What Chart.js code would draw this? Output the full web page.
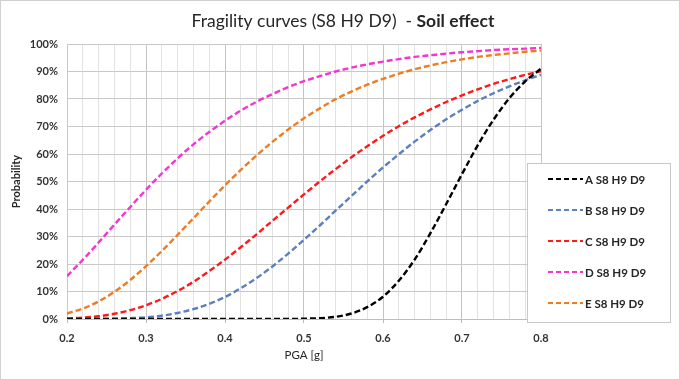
<!DOCTYPE html>
<html>
<head>
<meta charset="utf-8">
<script src="https://cdn.jsdelivr.net/npm/chart.js@4"></script>
<style>
  html, body { margin: 0; padding: 0; background: #fff; }
  #wrap { width: 680px; height: 380px; }
</style>
</head>
<body>
<div id="wrap"><canvas id="fragilityChart" width="680" height="380"></canvas></div>
<script>
// PGA values [g]
const pga = [0.20, 0.22, 0.24, 0.26, 0.28, 0.30, 0.32, 0.34, 0.36, 0.38,
             0.40, 0.42, 0.44, 0.46, 0.48, 0.50, 0.52, 0.54, 0.56, 0.58,
             0.60, 0.62, 0.64, 0.66, 0.68, 0.70, 0.72, 0.74, 0.76, 0.78, 0.80];

// Probability of exceedance (%)
const soilA = [0, 0, 0, 0, 0, 0, 0, 0, 0, 0,
               0, 0, 0, 0, 0, 0.1, 0.3, 0.8, 2.0, 4.3,
               8.1, 13.9, 21.6, 31.2, 41.8, 52.7, 63.2, 72.5, 80.3, 86.4, 91.0];
const soilB = [0, 0, 0, 0.1, 0.3, 0.6, 1.2, 2.2, 3.6, 5.5,
               8.0, 11.2, 14.9, 19.1, 23.8, 28.8, 34.0, 39.4, 44.7, 50.0,
               55.1, 59.9, 64.5, 68.7, 72.6, 76.1, 79.3, 82.1, 84.6, 86.8, 88.8];
const soilC = [0.2, 0.5, 1.0, 1.9, 3.2, 5.0, 7.3, 10.2, 13.5, 17.4,
               21.6, 26.1, 30.8, 35.7, 40.5, 45.3, 50.0, 54.5, 58.8, 62.8,
               66.6, 70.1, 73.3, 76.2, 78.9, 81.3, 83.5, 85.5, 87.2, 88.8, 90.1];
const soilD = [15.6, 21.5, 27.8, 34.3, 40.7, 47.0, 52.9, 58.4, 63.5, 68.0,
               72.1, 75.8, 79.0, 81.8, 84.3, 86.5, 88.3, 90.0, 91.4, 92.6,
               93.6, 94.5, 95.3, 95.9, 96.5, 97.0, 97.4, 97.8, 98.1, 98.3, 98.6];
const soilE = [2.0, 3.8, 6.4, 9.9, 14.2, 19.2, 24.7, 30.6, 36.6, 42.7,
               48.6, 54.2, 59.5, 64.4, 68.9, 73.0, 76.6, 79.9, 82.7, 85.2,
               87.3, 89.2, 90.8, 92.2, 93.4, 94.4, 95.3, 96.0, 96.6, 97.2, 97.6];

const seriesLabels = ['A S8 H9 D9', 'B S8 H9 D9', 'C S8 H9 D9', 'D S8 H9 D9', 'E S8 H9 D9'];
const seriesColors = ['#000000', '#5b7fc0', '#ff1a1a', '#f535d0', '#ee7c22'];
const seriesValues = [soilA, soilB, soilC, soilD, soilE];

const FONT = 'Lato, "Open Sans", sans-serif';

function isMajor(v) {
    return Math.abs(v * 10 - Math.round(v * 10)) < 1e-6;
}

// white background, outer frame and two-weight title
const framePlugin = {
    id: 'frame',
    beforeDraw(chart) {
        const ctx = chart.ctx;
        ctx.save();
        ctx.fillStyle = '#ffffff';
        ctx.fillRect(0, 0, chart.width, chart.height);
        ctx.strokeStyle = '#d0d0d0';
        ctx.lineWidth = 1;
        ctx.strokeRect(0.5, 0.5, chart.width - 1, chart.height - 1);
        ctx.restore();
    },
    afterDraw(chart) {
        const ctx = chart.ctx;
        ctx.save();
        const part1 = 'Fragility curves (S8 H9 D9)  - ';
        const part2 = 'Soil effect';
        ctx.textBaseline = 'middle';
        ctx.fillStyle = '#262626';
        ctx.font = '17.5px ' + FONT;
        const w1 = ctx.measureText(part1).width;
        ctx.font = 'bold 17.5px ' + FONT;
        const w2 = ctx.measureText(part2).width;
        const x0 = 343 - (w1 + w2) / 2;
        ctx.font = '17.5px ' + FONT;
        ctx.fillText(part1, x0, 21);
        ctx.font = 'bold 17.5px ' + FONT;
        ctx.fillText(part2, x0 + w1, 21);
        ctx.restore();
    }
};

// legend box overlapping the right side of the plot
const legendBoxPlugin = {
    id: 'legendBox',
    afterDatasetsDraw(chart) {
        const ctx = chart.ctx;
        ctx.save();
        ctx.fillStyle = '#ffffff';
        ctx.fillRect(527, 163, 143, 159);
        ctx.strokeStyle = '#c8c8c8';
        ctx.lineWidth = 1;
        ctx.strokeRect(527.5, 163.5, 143, 159);
        const rows = [179, 210, 241, 272, 303];
        chart.data.datasets.forEach((ds, i) => {
            const y = rows[i];
            ctx.strokeStyle = ds.borderColor;
            ctx.lineWidth = 2.2;
            ctx.setLineDash([5, 3]);
            ctx.beginPath();
            ctx.moveTo(548, y);
            ctx.lineTo(583, y);
            ctx.stroke();
            ctx.setLineDash([]);
            ctx.fillStyle = '#262626';
            ctx.font = 'bold 11.5px ' + FONT;
            ctx.textBaseline = 'middle';
            ctx.fillText(ds.label, 585, y + 1);
        });
        ctx.restore();
    }
};

const ctx = document.getElementById('fragilityChart').getContext('2d');

new Chart(ctx, {
    type: 'line',
    data: {
        datasets: seriesLabels.map((label, i) => ({
            label: label,
            data: pga.map((x, j) => ({ x: x, y: seriesValues[i][j] })),
            borderColor: seriesColors[i],
            backgroundColor: seriesColors[i],
            borderWidth: 2.4,
            borderDash: [6, 3],
            pointRadius: 0,
            cubicInterpolationMode: 'monotone',
            fill: false
        }))
    },
    options: {
        responsive: false,
        animation: false,
        layout: {
            padding: { top: 44, right: 139, left: 0, bottom: 18 }
        },
        plugins: {
            legend: { display: false },
            title: { display: false },
            tooltip: { enabled: false }
        },
        scales: {
            x: {
                type: 'linear',
                min: 0.2,
                max: 0.8,
                afterFit(scale) { scale.height = 43; },
                afterBuildTicks(scale) {
                    const t = [];
                    for (let k = 0; k <= 30; k++) t.push({ value: 0.2 + k * 0.02 });
                    scale.ticks = t;
                },
                grid: {
                    color: c => isMajor(c.tick.value) ? '#c4c4c4' : '#e2e2e2',
                    tickColor: c => isMajor(c.tick.value) ? '#bdbdbd' : 'rgba(0,0,0,0)',
                    tickLength: 4,
                    lineWidth: 1
                },
                border: { color: '#bdbdbd' },
                ticks: {
                    autoSkip: false,
                    maxRotation: 0,
                    padding: 9,
                    color: '#333333',
                    font: { family: FONT, size: 11, weight: 'bold' },
                    callback: v => isMajor(v) ? v.toFixed(1) : ''
                },
                title: {
                    display: true,
                    text: 'PGA [g]',
                    color: '#262626',
                    font: { family: FONT, size: 11.5 },
                    padding: { top: 2, bottom: 0 }
                }
            },
            y: {
                min: 0,
                max: 100,
                afterFit(scale) { scale.width = 67; },
                grid: {
                    color: '#c8c8c8',
                    drawTicks: false
                },
                border: { color: '#c8c8c8' },
                ticks: {
                    stepSize: 10,
                    padding: 9,
                    color: '#333333',
                    font: { family: FONT, size: 11, weight: 'bold' },
                    callback: v => v + '%'
                },
                title: {
                    display: true,
                    text: 'Probability',
                    color: '#262626',
                    font: { family: FONT, size: 11, weight: 'bold' },
                    padding: { top: 10, bottom: 0 }
                }
            }
        }
    },
    plugins: [framePlugin, legendBoxPlugin]
});
</script>
</body>
</html>
